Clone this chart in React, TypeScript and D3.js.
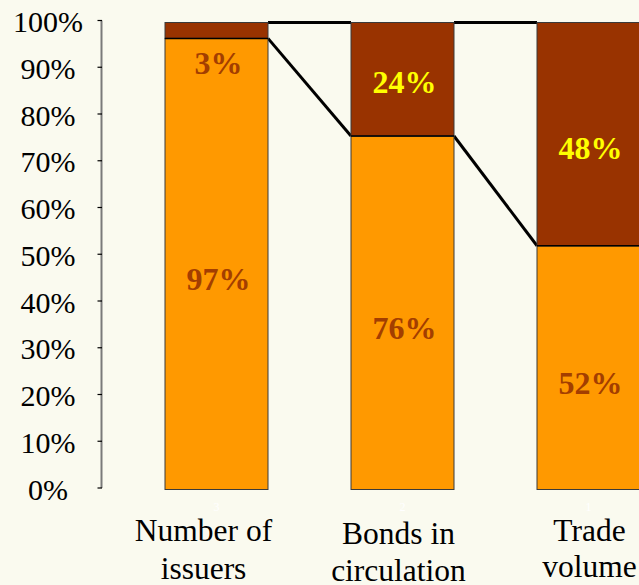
import React from "react";
import * as d3 from "d3";

const categories = ["Number of issuers", "Bonds in circulation", "Trade volume"];
const categoryLines = [["Number of", "issuers"], ["Bonds in", "circulation"], ["Trade", "volume"]];
const categoryIndex = ["3", "2", "1"];
const lowerValues = [96.6, 75.7, 52.2];
const upperValues = [3.4, 24.3, 47.8];
const yTicks = [0, 10, 20, 30, 40, 50, 60, 70, 80, 90, 100];

const W = 639;
const H = 585;
const BG = "#FAFAEF";
const ORANGE = "#FF9900";
const BROWN = "#993300";
const LABEL_BROWN = "#A33E00";
const YELLOW = "#FFFF00";
const SERIF = "'Liberation Serif', 'Times New Roman', Times, serif";

// layout tweaks for labels (px)
const catDx = [-13, -4, 1];
const catBase1 = [541, 544, 541];
const catBase2 = [579, 581, 577];
const upperDy = [36, 13.5, 25];

export default function App() {
  const x = d3
    .scaleBand<string>()
    .domain(categories)
    .range([165, 640])
    .paddingInner(83 / 186)
    .paddingOuter(0);
  const y = d3.scaleLinear().domain([0, 100]).range([489.5, 22.5]);
  const yAxis = d3.scaleLinear().domain([0, 100]).range([488, 20.5]);
  const bw = x.bandwidth();

  const fmt = (v: number) => `${Math.round(v)}%`;

  return (
    <svg
      width={W}
      height={H}
      style={{ position: "absolute", left: 0, top: 0, display: "block" }}
    >
      <rect x={0} y={0} width={W} height={H} fill={BG} />

      {/* Y axis */}
      <line x1={101.5} x2={101.5} y1={yAxis(100)} y2={yAxis(0)} stroke="#7a7a7a" strokeWidth={2} />
      {yTicks.map((t) => (
        <g key={t}>
          <line x1={97.5} x2={102} y1={yAxis(t)} y2={yAxis(t)} stroke="#000" strokeWidth={1.2} />
          <text
            x={48}
            y={yAxis(t) + 11.5}
            textAnchor="middle"
            fontFamily={SERIF}
            fontSize={30}
            fill="#000"
          >
            {`${t}%`}
          </text>
        </g>
      ))}

      {/* connector lines */}
      {categories.slice(0, -1).map((c, i) => {
        const n = categories[i + 1];
        const x1 = (x(c) as number) + bw;
        const x2 = x(n) as number;
        return (
          <g key={"conn" + c}>
            <line
              x1={x1}
              x2={x2}
              y1={y(lowerValues[i] + upperValues[i])}
              y2={y(lowerValues[i + 1] + upperValues[i + 1])}
              stroke="#000"
              strokeWidth={3}
            />
            <line
              x1={x1}
              x2={x2}
              y1={y(lowerValues[i])}
              y2={y(lowerValues[i + 1])}
              stroke="#000"
              strokeWidth={3}
            />
          </g>
        );
      })}

      {/* bars */}
      {categories.map((c, i) => {
        const x0 = x(c) as number;
        const lo = lowerValues[i];
        const up = upperValues[i];
        return (
          <g key={c}>
            <rect
              x={x0}
              y={y(lo)}
              width={bw}
              height={y(0) - y(lo)}
              fill={ORANGE}
              stroke="#3a3a3a"
              strokeWidth={1}
            />
            <rect
              x={x0}
              y={y(lo + up)}
              width={bw}
              height={y(lo) - y(lo + up)}
              fill={BROWN}
              stroke="#3a3a3a"
              strokeWidth={1}
            />
            <line x1={x0} x2={x0 + bw} y1={y(lo)} y2={y(lo)} stroke="#000" strokeWidth={1.5} />
          </g>
        );
      })}

      {/* value labels */}
      {categories.map((c, i) => {
        const cx = (x(c) as number) + bw / 2 + 2;
        const lo = lowerValues[i];
        const up = upperValues[i];
        const upperY = i === 0 ? y(lo) + upperDy[i] : y(lo + up / 2) + upperDy[i];
        return (
          <g key={"lab" + c} fontFamily={SERIF} fontWeight="bold" fontSize={32} textAnchor="middle">
            <text x={cx} y={y(lo / 2) + 26} fill={LABEL_BROWN}>
              {fmt(lo)}
            </text>
            <text x={cx} y={upperY} fill={i === 0 ? LABEL_BROWN : YELLOW}>
              {fmt(up)}
            </text>
          </g>
        );
      })}

      {/* category labels */}
      {categories.map((c, i) => {
        const cx = (x(c) as number) + bw / 2;
        return (
          <g key={"cat" + c} fontFamily={SERIF} textAnchor="middle">
            <text x={cx} y={511} fontSize={12} fill="#FFFFFF">
              {categoryIndex[i]}
            </text>
            <text x={cx + catDx[i]} y={catBase1[i]} fontSize={31.5} fill="#000">
              {categoryLines[i][0]}
            </text>
            <text x={cx + catDx[i]} y={catBase2[i]} fontSize={31.5} fill="#000">
              {categoryLines[i][1]}
            </text>
          </g>
        );
      })}
    </svg>
  );
}
